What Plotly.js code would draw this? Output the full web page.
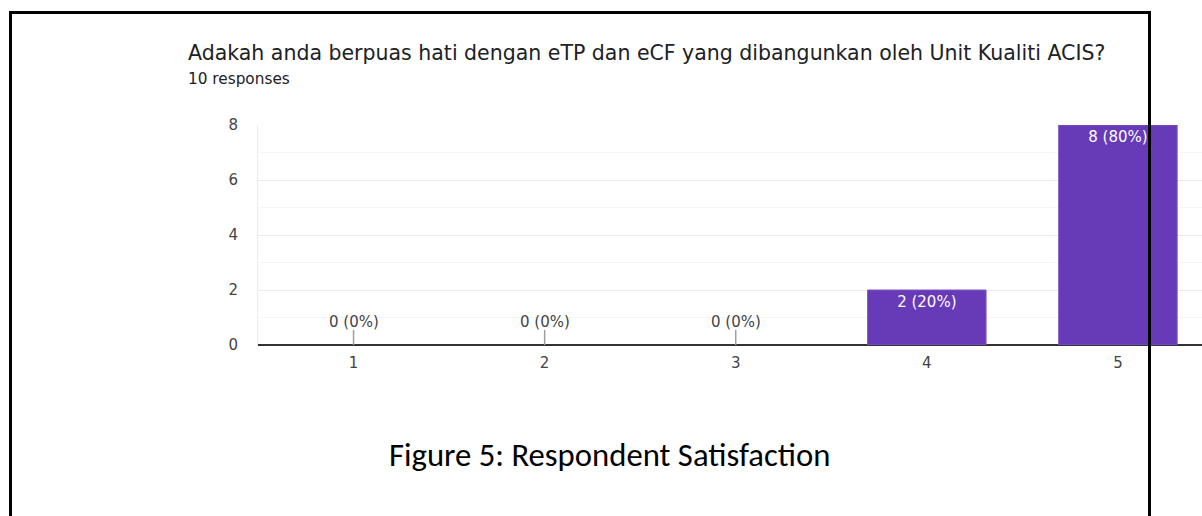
<!DOCTYPE html>
<html>
<head>
<meta charset="utf-8">
<script src="https://cdn.plot.ly/plotly-3.0.1.min.js"></script>
<style>
  html, body { margin: 0; padding: 0; background: #fff; overflow: hidden; }
  #wrap { position: relative; width: 1202px; height: 516px; }
  #chart { position: absolute; left: 0; top: 0; width: 1202px; height: 516px; }
  #frame { position: absolute; left: 9px; top: 11px; width: 1142px; height: 600px;
           box-sizing: border-box; border: 3px solid #000; border-bottom: none; pointer-events: none; }
</style>
</head>
<body>
<div id="wrap">
  <div id="chart"></div>
  <div id="frame"></div>
</div>
<script>
// ---- data ----
const categories = [1, 2, 3, 4, 5];
const counts = [0, 0, 0, 2, 8];
const yTicks = [0, 2, 4, 6, 8];
const titleText = 'Adakah anda berpuas hati dengan eTP dan eCF yang dibangunkan oleh Unit Kualiti ACIS?';
const subtitleText = '10 responses';
const captionText = 'Figure 5: Respondent Satisfaction';

// ---- derived ----
const total = counts.reduce((a, b) => a + b, 0);
const labels = counts.map(v => v + ' (' + Math.round(v / total * 100) + '%)');

const W = 1202, H = 516;
const M = { l: 258, r: 0, t: 125, b: 171 };
const pw = W - M.l - M.r, ph = H - M.t - M.b;
const px = x => (x - M.l) / pw;
const py = y => (H - M.b - y) / ph;

const zeroCats = categories.filter((c, i) => counts[i] === 0);
const zeroLabels = labels.filter((l, i) => counts[i] === 0);

const chartFont = 'DejaVu Sans, Arial, sans-serif';

const bars = {
  type: 'bar',
  x: categories,
  y: counts,
  width: 0.62,
  marker: { color: '#673ab7', line: { color: '#7e57c2', width: counts.map(v => v > 0 ? 1 : 0) } },
  text: counts.map((v, i) => v > 0 ? labels[i] : ''),
  textposition: 'inside',
  insidetextanchor: 'end',
  textangle: 0,
  textfont: { family: chartFont, size: 15, color: '#ffffff' },
  hoverinfo: 'skip'
};

const zeroTicks = {
  type: 'scatter',
  mode: 'markers',
  x: zeroCats,
  y: zeroCats.map(() => 0),
  marker: { size: 1, color: 'rgba(0,0,0,0)' },
  error_y: { type: 'data', symmetric: false, array: zeroCats.map(() => 0.55), arrayminus: zeroCats.map(() => 0),
             width: 0, color: '#9e9e9e', thickness: 1.5 },
  hoverinfo: 'skip'
};

const annotations = zeroCats.map((c, i) => ({
  x: c, y: 0.55, xref: 'x', yref: 'y', text: zeroLabels[i], showarrow: false,
  yanchor: 'bottom', yshift: -3, font: { family: chartFont, size: 15, color: '#444' }
}));

annotations.push({
  x: px(186), y: py(53), xref: 'paper', yref: 'paper', xanchor: 'left', yanchor: 'middle',
  text: titleText, showarrow: false, font: { family: chartFont, size: 20.5, color: '#202124' }
});
annotations.push({
  x: px(186), y: py(79), xref: 'paper', yref: 'paper', xanchor: 'left', yanchor: 'middle',
  text: subtitleText, showarrow: false, font: { family: chartFont, size: 15.3, color: '#202124' }
});
annotations.push({
  x: px(609), y: py(455), xref: 'paper', yref: 'paper', xanchor: 'center', yanchor: 'middle',
  text: captionText, showarrow: false,
  font: { family: 'Carlito, Liberation Sans Narrow, Open Sans, sans-serif', size: 32.7, color: '#000' }
});

const layout = {
  width: W, height: H,
  margin: M,
  paper_bgcolor: '#ffffff', plot_bgcolor: '#ffffff',
  showlegend: false,
  bargap: 0.38,
  xaxis: {
    range: [0.5, 5.44], tickvals: categories, ticktext: categories.map(String),
    showgrid: false, zeroline: false, showline: false, ticks: '',
    ticklabelstandoff: 7,
    tickfont: { family: chartFont, size: 15, color: '#444' }, fixedrange: true
  },
  yaxis: {
    range: [0, 8], tickvals: yTicks, ticktext: yTicks.map(String),
    showgrid: true, gridcolor: '#ebebeb', gridwidth: 1,
    minor: { dtick: 1, tick0: 0, showgrid: true, gridcolor: '#f5f5f5', gridwidth: 1, ticks: '' },
    zeroline: true, zerolinecolor: '#333333', zerolinewidth: 1.5,
    showline: true, linecolor: '#ebebeb', linewidth: 1,
    ticks: '', ticklabelstandoff: 16,
    tickfont: { family: chartFont, size: 15, color: '#444' }, fixedrange: true
  },
  annotations: annotations
};

Plotly.newPlot('chart', [bars, zeroTicks], layout, { staticPlot: true, displayModeBar: false });
</script>
</body>
</html>
